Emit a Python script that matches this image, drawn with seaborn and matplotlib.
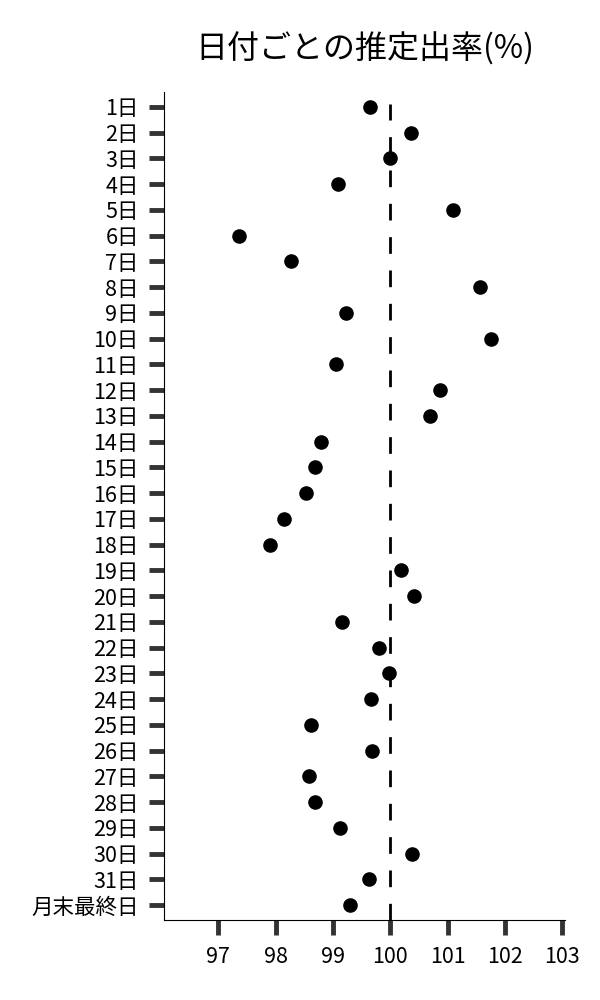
import matplotlib
matplotlib.use("Agg")
import matplotlib.pyplot as plt
import seaborn as sns
import pandas as pd

# data
days = [f"{i}日" for i in range(1, 32)] + ["月末最終日"]
rates = [99.65, 100.36, 99.99, 99.09, 101.10, 97.37, 98.27, 101.56, 99.22, 101.76,
         99.05, 100.86, 100.69, 98.79, 98.68, 98.53, 98.14, 97.91, 100.18, 100.41,
         99.16, 99.80, 99.97, 99.67, 98.62, 99.68, 98.58, 98.68, 99.12, 100.38,
         99.63, 99.29]
x_ticks = [97, 98, 99, 100, 101, 102, 103]
title = "日付ごとの推定出率(%)"

sns.set_style("ticks", {
    "xtick.major.size": 11, "ytick.major.size": 11,
    "xtick.major.width": 3.5, "ytick.major.width": 3.5,
    "xtick.color": "#333333", "ytick.color": "#333333",
    "axes.edgecolor": "black", "axes.linewidth": 1.1,
    "text.color": "black",
})
plt.rcParams["font.family"] = ["Noto Sans CJK JP", "DejaVu Sans"]
plt.rcParams["xtick.labelcolor"] = "black"
plt.rcParams["ytick.labelcolor"] = "black"

df = pd.DataFrame({"day": days, "rate": rates})

fig = plt.figure(figsize=(6, 10), dpi=100)
ax = fig.add_axes([0.273, 0.08, 0.669, 0.828])

sns.stripplot(data=df, x="rate", y="day", order=days, jitter=False,
              color="black", size=10.5, linewidth=0, ax=ax)
# reference line at 100%
ax.axvline(100, ymax=0.985, color="black", lw=2, linestyle=(0, (6, 6)))

ax.set_xlim(96.05, 103.05)
ax.set_ylim(len(days) - 0.42, -0.58)
ax.set_xticks(x_ticks)
ax.set_xticklabels([str(t) for t in x_ticks])
ax.set_xlabel("")
ax.set_ylabel("")
ax.tick_params(axis="both", length=11, width=3.5, color="#333333",
               labelsize=15.5, labelcolor="black")
ax.tick_params(axis="x", pad=8)
ax.tick_params(axis="y", pad=7)
sns.despine(ax=ax)

ax.set_title(title, fontsize=23, pad=24, color="black")

fig.savefig("out.png", dpi=100, facecolor="white")
